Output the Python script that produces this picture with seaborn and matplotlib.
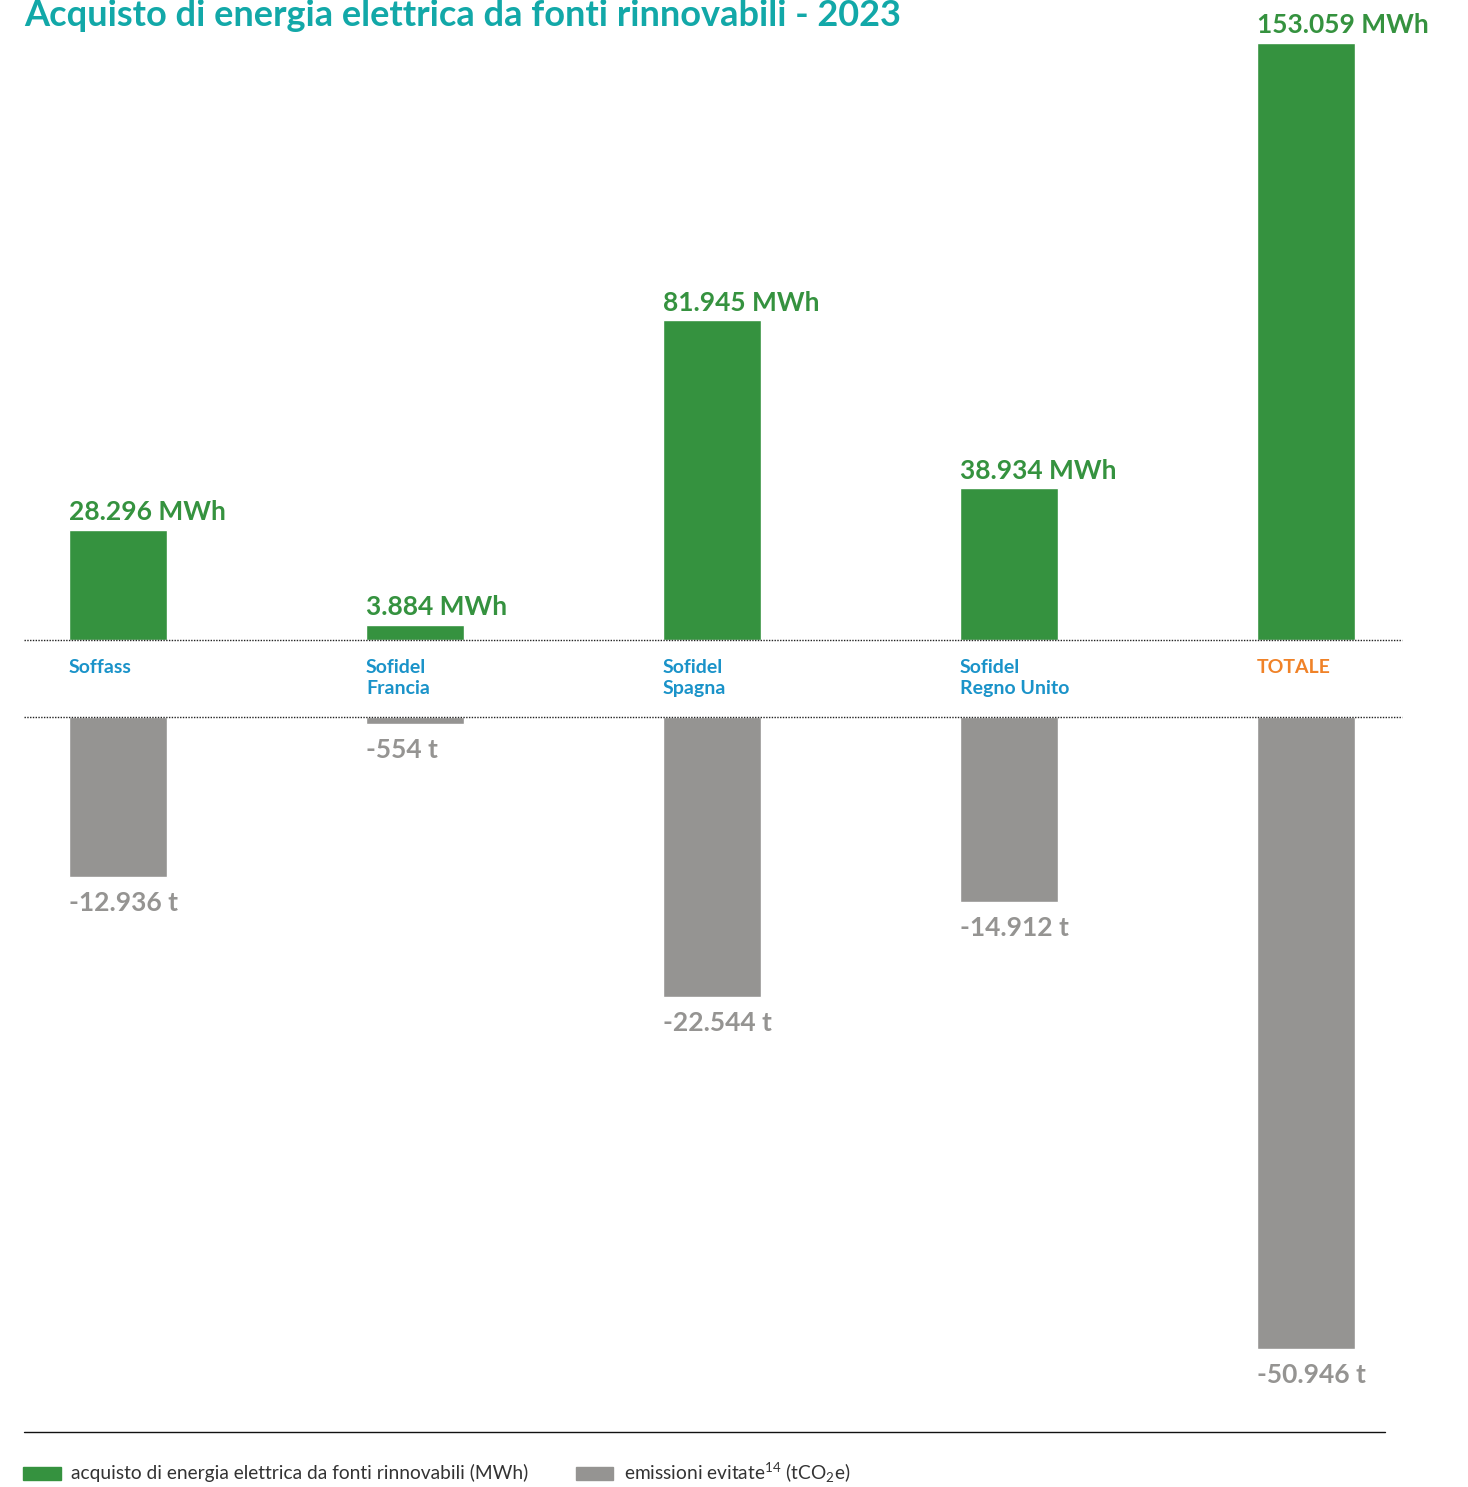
import pandas as pd
import matplotlib.pyplot as plt
import matplotlib.transforms as mtransforms
from matplotlib.patches import Rectangle
import seaborn as sns

# Data
companies = ['Soffass', 'Sofidel\nFrancia', 'Sofidel\nSpagna', 'Sofidel\nRegno Unito', 'TOTALE']
energy_mwh = [28296, 3884, 81945, 38934, 153059]
avoided_t = [-12936, -554, -22544, -14912, -50946]

green = '#35923f'
grey = '#959492'
blue = '#1a93c9'
orange = '#f08228'
teal = '#12a8a8'

sns.set_style('white')
plt.rcParams['font.family'] = ['Lato', 'DejaVu Sans']
plt.rcParams['mathtext.default'] = 'regular'

df = pd.DataFrame({'company': companies, 'mwh': energy_mwh, 'tco2': avoided_t})

W, H = 1468, 1487
fig = plt.figure(figsize=(W / 100, H / 100), dpi=100)

def fy(px):
    return 1 - px / H

x0, x1 = 24, 1402
ax_w = (x1 - x0) / W
xlim = (-0.3165, 4.323)
bar_w = 0.33

# top panel: energy purchased
ax_top = fig.add_axes([x0 / W, fy(640), ax_w, (640 - 43) / H])
sns.barplot(data=df, x='company', y='mwh', color=green, width=bar_w,
            saturation=1, ax=ax_top)
ax_top.set_ylim(0, max(energy_mwh))

# bottom panel: avoided emissions
ax_bot = fig.add_axes([x0 / W, fy(1349), ax_w, (1349 - 717) / H])
sns.barplot(data=df, x='company', y='tco2', color=grey, width=bar_w,
            saturation=1, ax=ax_bot)
ax_bot.set_ylim(min(avoided_t), 0)

for ax in (ax_top, ax_bot):
    ax.set_xlim(*xlim)
    ax.axis('off')
    ax.set_facecolor('none')

ax_top.axhline(0, color='#222222', linestyle=(0, (1, 1)), linewidth=1, clip_on=False)
ax_bot.axhline(0, color='#222222', linestyle=(0, (1, 1)), linewidth=1, clip_on=False)

def fmt(v):
    return f'{v:,}'.replace(',', '.')

for i, v in enumerate(energy_mwh):
    ax_top.annotate(f'{fmt(v)} MWh', (i - bar_w / 2, v), xytext=(0, 4),
                    textcoords='offset points', ha='left', va='bottom',
                    fontsize=19, fontweight='bold', color=green, annotation_clip=False)

for i, v in enumerate(avoided_t):
    ax_bot.annotate(f'{fmt(v)} t', (i - bar_w / 2, v), xytext=(0, -10),
                    textcoords='offset points', ha='left', va='top',
                    fontsize=19, fontweight='bold', color=grey, annotation_clip=False)

# category labels between the panels
trans = mtransforms.blended_transform_factory(ax_top.transData, fig.transFigure)
for i, name in enumerate(companies):
    col = orange if name == 'TOTALE' else blue
    fig.text(i - bar_w / 2, fy(659), name, transform=trans, ha='left', va='top',
             fontsize=14, fontweight='bold', color=col, linespacing=1.3)

# title
fig.text(x0 / W, fy(-1), 'Acquisto di energia elettrica da fonti rinnovabili - 2023',
         ha='left', va='top', fontsize=26, fontweight='bold', color=teal)

# bottom rule and legend
fig.add_artist(plt.Line2D([x0 / W, 1385 / W], [fy(1432), fy(1432)],
                          color='#111111', linewidth=1))
fig.add_artist(Rectangle((23 / W, fy(1480)), 38 / W, 13 / H, color=green,
                         transform=fig.transFigure))
fig.text(71 / W, fy(1473), 'acquisto di energia elettrica da fonti rinnovabili (MWh)',
         ha='left', va='center', fontsize=13.8, color='#333333')
fig.add_artist(Rectangle((576 / W, fy(1480)), 37 / W, 13 / H, color=grey,
                         transform=fig.transFigure))
fig.text(624 / W, fy(1473), 'emissioni evitate$^{14}$ (tCO$_{2}$e)',
         ha='left', va='center', fontsize=13.8, color='#333333')

fig.savefig('out.png', dpi=100, facecolor='white')
